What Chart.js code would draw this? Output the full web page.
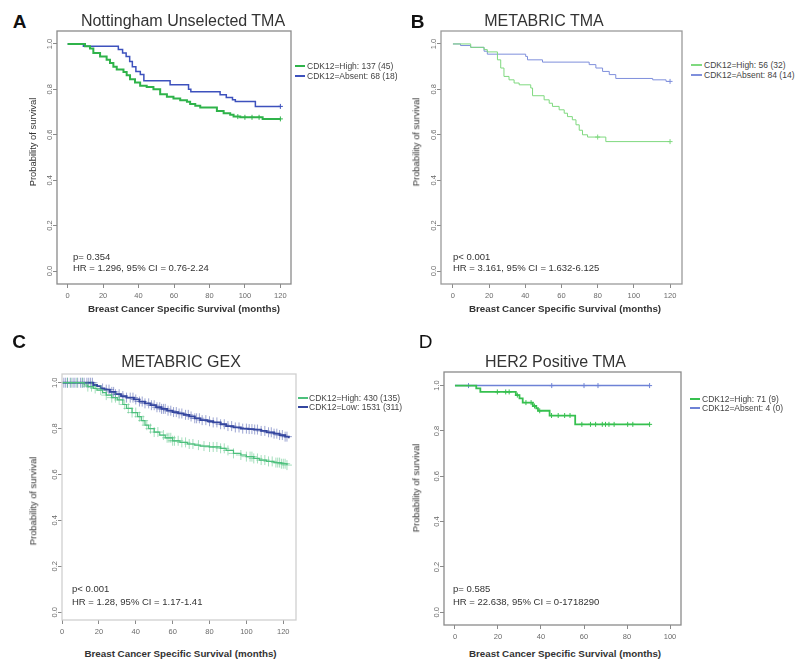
<!DOCTYPE html>
<html><head><meta charset="utf-8">
<script src="https://cdn.jsdelivr.net/npm/chart.js@4.4.1/dist/chart.umd.min.js"></script>
<style>
html,body{margin:0;padding:0;background:#fff}
#page{position:relative;width:800px;height:671px;overflow:hidden;font-family:"Liberation Sans",Arial,sans-serif;color:#222}
#page canvas{position:absolute}
.t{position:absolute;white-space:nowrap;line-height:1}
.c{transform:translate(-50%,-50%)}
.v{transform:translate(-50%,-50%) rotate(-90deg)}
.l{transform:translateY(-50%)}
.sw{position:absolute;height:2px}
</style></head><body><div id="page"></div>
<script>
// ---------------- DATA ----------------
const yTicks = [0, 0.2, 0.4, 0.6, 0.8, 1.0];
const xTicks120 = [0, 20, 40, 60, 80, 100, 120];
const xTicks100 = [0, 20, 40, 60, 80, 100];

const titles = ["Nottingham Unselected TMA", "METABRIC TMA", "METABRIC GEX", "HER2 Positive TMA"];
const letters = ["A", "B", "C", "D"];
const xAxisTitle = "Breast Cancer Specific Survival (months)";
const yAxisTitle = "Probability of survival";

const legendA = ["CDK12=High: 137 (45)", "CDK12=Absent: 68 (18)"];
const legendB = ["CDK12=High: 56 (32)", "CDK12=Absent: 84 (14)"];
const legendC = ["CDK12=High: 430 (135)", "CDK12=Low: 1531 (311)"];
const legendD = ["CDK12=High: 71 (9)", "CDK12=Absent: 4 (0)"];

const statsA = ["p= 0.354", "HR = 1.296, 95% CI = 0.76-2.24"];
const statsB = ["p< 0.001", "HR = 3.161, 95% CI = 1.632-6.125"];
const statsC = ["p< 0.001", "HR = 1.28, 95% CI = 1.17-1.41"];
const statsD = ["p= 0.585", "HR = 22.638, 95% CI = 0-1718290"];

// Panel A (time in months, survival probability after each step)
const A_high_t = [0, 9.8, 12.6, 14.5, 18.3, 22, 23.9, 25.8, 27.7, 31.5, 33.3, 35.2, 38, 40.9, 44.6, 48.4, 52.2, 56, 59.7, 63.5, 67.3, 69.1, 72, 74.8, 84.2, 88, 91.7, 93.6, 97.4, 110, 120];
const A_high_s = [1, 0.99, 0.98, 0.96, 0.945, 0.93, 0.916, 0.9, 0.887, 0.876, 0.862, 0.845, 0.83, 0.816, 0.81, 0.8, 0.778, 0.767, 0.76, 0.752, 0.745, 0.736, 0.728, 0.72, 0.705, 0.695, 0.688, 0.68, 0.677, 0.67, 0.67];
const A_high_cens = [96, 100, 104, 108, 120];
const A_abs_t = [0, 8.9, 28.6, 31, 33, 35, 36.5, 38.5, 41, 43, 57.8, 68.2, 69.5, 86, 89.5, 93, 94.6, 105.9, 120];
const A_abs_s = [1, 0.99, 0.975, 0.96, 0.945, 0.923, 0.9, 0.879, 0.865, 0.838, 0.82, 0.8, 0.79, 0.776, 0.764, 0.754, 0.747, 0.725, 0.725];
const A_abs_cens = [120];

// Panel B
const B_high_t = [0, 9.8, 17.2, 19, 24.6, 26.4, 28.2, 31, 33.8, 36.6, 43, 44, 50.4, 53.2, 55, 58.7, 61.5, 63.3, 66, 68, 69.8, 71.6, 74.4, 84.5, 120];
const B_high_s = [1, 0.985, 0.975, 0.965, 0.93, 0.894, 0.857, 0.842, 0.828, 0.82, 0.806, 0.772, 0.754, 0.739, 0.725, 0.71, 0.695, 0.68, 0.666, 0.644, 0.62, 0.6, 0.59, 0.57, 0.57];
const B_high_cens = [80, 120];
const B_abs_t = [0, 4.2, 9.8, 17.2, 19, 40.2, 41.2, 49.5, 75.3, 79, 82.7, 86.4, 90, 110.4, 117.8, 120];
const B_abs_s = [1, 0.993, 0.985, 0.968, 0.955, 0.945, 0.93, 0.92, 0.909, 0.894, 0.879, 0.865, 0.848, 0.842, 0.835, 0.835];
const B_abs_cens = [120];

// Panel C
const C_high_t = [0, 12, 14, 17, 19, 22, 24, 27, 30, 33, 35, 38, 41, 43, 45, 47, 50, 53, 56, 60, 64, 68, 72, 75, 80, 86, 89, 93, 97, 100, 104, 107, 111, 115, 119, 122];
const C_high_s = [1, 0.99, 0.983, 0.975, 0.968, 0.957, 0.946, 0.935, 0.925, 0.905, 0.888, 0.87, 0.852, 0.835, 0.815, 0.8, 0.785, 0.772, 0.76, 0.747, 0.74, 0.733, 0.728, 0.724, 0.72, 0.714, 0.705, 0.692, 0.685, 0.678, 0.67, 0.663, 0.657, 0.652, 0.647, 0.641];
const C_high_cens = [3, 5, 8, 11, 14, 16, 18, 21, 24, 27, 29, 31, 34, 36, 38, 40, 42, 44, 46, 48, 50, 52, 55, 57, 58, 59, 60, 61, 63, 65, 67, 69, 71, 74, 77, 80, 82, 84, 86, 88, 90, 93, 97, 100, 102, 103, 104, 106, 108, 110, 112, 114, 116, 117, 118, 119, 120, 121, 122];
const C_low_t = [0, 17, 19, 21, 23, 26, 29, 32, 35, 39, 42, 45, 48, 51, 54, 57, 60, 63, 66, 69, 72, 75, 79, 82, 86, 89, 93, 97, 101, 104, 108, 111, 115, 118, 121, 123];
const C_low_s = [1, 0.99, 0.985, 0.975, 0.97, 0.96, 0.95, 0.942, 0.935, 0.927, 0.918, 0.91, 0.902, 0.893, 0.886, 0.878, 0.872, 0.866, 0.86, 0.853, 0.845, 0.837, 0.832, 0.827, 0.819, 0.811, 0.805, 0.8, 0.798, 0.796, 0.79, 0.784, 0.778, 0.772, 0.765, 0.758];
const C_low_cens = [1, 2, 3, 4.5, 6, 7, 8.5, 10, 11, 12, 13.5, 14.5, 15.5, 16.5, 22, 24, 25.5, 27, 28, 29, 31, 33, 35, 37, 38.5, 40, 42, 43.5, 45, 47, 48.5, 50, 51.5, 53, 54, 55, 56, 57.5, 59, 60.5, 62, 63.5, 65, 67, 68.5, 70, 72, 73, 74.5, 76, 78, 80, 82, 84, 86, 88, 90, 92, 94, 96, 98, 100, 101.5, 103, 104.5, 106, 108, 110, 112, 113.5, 115, 116.5, 118, 119.5, 121, 122];

// Panel D
const D_high_t = [0, 9.9, 11.8, 28.3, 30, 31.5, 36.2, 37.8, 38.6, 44, 55.9, 90.5];
const D_high_s = [1, 0.988, 0.972, 0.958, 0.944, 0.925, 0.91, 0.9, 0.889, 0.868, 0.829, 0.829];
const D_high_cens = [19.7, 23.6, 25.2, 29, 33, 35.4, 37, 39.4, 44.9, 48, 51, 53.5, 59, 63, 65.4, 68.5, 70, 71.6, 74, 80.3, 82.7, 90.5];
const D_abs_t = [0, 90.5];
const D_abs_s = [1, 1];
const D_abs_cens = [6.3, 45, 60, 66.5, 90.5];

// ---------------- STYLE / LAYOUT ----------------
const panels = [
  { box: [57, 31, 291, 284], xr: [-6, 126], yr: [-0.057, 1.057], xt: xTicks120,
    series: [
      { t: A_high_t, s: A_high_s, cens: A_high_cens, color: '#2fb34a', w: 2, cr: 2.5 },
      { t: A_abs_t, s: A_abs_s, cens: A_abs_cens, color: '#3d51bd', w: 1.5, cr: 2.5 }],
    legend: legendA, stats: statsA, boxColor: '#8a8a8a',
    txt: { letter: [19.5, 20.5], title: [183, 20.5], xl: [184, 308.5], yl: [33, 142], st: [73, 256.7, 268.3], lg: [295, 305, 307, 66, 76] } },
  { box: [441, 31, 682, 284], xr: [-6.6, 126.6], yr: [-0.057, 1.057], xt: xTicks120,
    series: [
      { t: B_high_t, s: B_high_s, cens: B_high_cens, color: '#7fd97f', w: 1, cr: 2.5 },
      { t: B_abs_t, s: B_abs_s, cens: B_abs_cens, color: '#7f8fdc', w: 1, cr: 2.5 }],
    legend: legendB, stats: statsB, boxColor: '#9a9a9a',
    txt: { letter: [417.5, 20.5], title: [544, 20.5], xl: [565, 308.5], yl: [415.5, 142], st: [453, 256.7, 268.3], lg: [691, 702, 704, 65, 75] } },
  { box: [62, 374, 296, 620], xr: [0, 126.9], yr: [-0.034, 1.038], xt: xTicks120,
    series: [
      { t: C_high_t, s: C_high_s, cens: C_high_cens, color: '#4cc07c', w: 1.2, cr: 5, cc: 'rgba(76,192,124,0.5)' },
      { t: C_low_t, s: C_low_s, cens: C_low_cens, color: '#34469f', w: 1.8, cr: 5, cc: 'rgba(58,76,166,0.5)' }],
    legend: legendC, stats: statsC, boxColor: '#d0d0d0',
    txt: { letter: [19, 340.5], title: [181, 361.5], xl: [180.5, 654], yl: [32.5, 501], st: [72, 589.3, 601.7], lg: [298, 308, 309, 398, 407] } },
  { box: [444, 372, 681, 625], xr: [-5.1, 105.1], yr: [-0.056, 1.06], xt: xTicks100,
    series: [
      { t: D_high_t, s: D_high_s, cens: D_high_cens, color: '#36c04f', w: 1.8, cr: 2.5 },
      { t: D_abs_t, s: D_abs_s, cens: D_abs_cens, color: '#6e82d6', w: 1.5, cr: 2.5 }],
    legend: legendD, stats: statsD, boxColor: '#8a8a8a',
    txt: { letter: [425.5, 340.5], title: [555.5, 361.5], xl: [565, 654], yl: [415.5, 488], st: [453, 589.3, 601.7], lg: [690, 700, 702, 399, 408] } }
];

const page = document.getElementById('page');
function addText(str, x, y, cls, css) {
  const d = document.createElement('div');
  d.className = 't ' + cls;
  d.textContent = str;
  d.style.left = x + 'px'; d.style.top = y + 'px';
  Object.assign(d.style, css || {});
  page.appendChild(d);
  return d;
}
function survAt(t, times, surv) {
  let v = surv[0];
  for (let i = 0; i < times.length; i++) if (times[i] <= t) v = surv[i];
  return v;
}
const boxPlugin = {
  id: 'boxFrame',
  afterDraw(chart, args, opts) {
    const { ctx, chartArea: a } = chart;
    ctx.save();
    ctx.strokeStyle = opts.color; ctx.lineWidth = 1.3;
    ctx.strokeRect(a.left, a.top, a.right - a.left, a.bottom - a.top);
    ctx.restore();
  }
};

const padL = 26, padT = 6, padR = 6, padB = 22;
const tickFont = { family: '"Liberation Sans", Arial, sans-serif', size: 7.5 };
const tickColor = '#6a6a6a';

panels.forEach((p, idx) => {
  const [bl, bt, br, bb] = p.box;
  const W = (br - bl) + padL + padR, H = (bb - bt) + padT + padB;
  const cv = document.createElement('canvas');
  cv.width = W; cv.height = H;
  cv.style.left = (bl - padL) + 'px'; cv.style.top = (bt - padT) + 'px';
  cv.style.width = W + 'px'; cv.style.height = H + 'px';
  page.appendChild(cv);

  const datasets = [];
  p.series.forEach(s => {
    datasets.push({
      data: s.t.map((t, i) => ({ x: t, y: s.s[i] })),
      showLine: true, stepped: 'before', borderColor: s.color, borderWidth: s.w,
      pointRadius: 0, fill: false
    });
    datasets.push({
      data: s.cens.map(t => ({ x: t, y: survAt(t, s.t, s.s) })),
      showLine: false, pointStyle: 'cross', pointRadius: s.cr, pointBorderWidth: 1,
      borderColor: s.cc || s.color, backgroundColor: s.cc || s.color
    });
  });

  new Chart(cv, {
    type: 'scatter',
    data: { datasets },
    plugins: [boxPlugin],
    options: {
      responsive: false, animation: false, devicePixelRatio: 1, events: [],
      layout: { padding: { left: 0, top: padT, right: padR, bottom: 0 } },
      plugins: { legend: { display: false }, tooltip: { enabled: false }, boxFrame: { color: p.boxColor } },
      scales: {
        x: {
          type: 'linear', min: p.xr[0], max: p.xr[1],
          afterBuildTicks: sc => { sc.ticks = p.xt.map(v => ({ value: v })); },
          afterFit: sc => { sc.height = padB; },
          ticks: { autoSkip: false, minRotation: 0, maxRotation: 0, padding: 3, color: tickColor, font: tickFont, callback: v => String(v) },
          grid: { display: true, drawOnChartArea: false, drawTicks: true, tickLength: 4, color: '#8a8a8a', lineWidth: 1 },
          border: { display: false }
        },
        y: {
          type: 'linear', min: p.yr[0], max: p.yr[1],
          afterBuildTicks: sc => { sc.ticks = yTicks.map(v => ({ value: v })); },
          afterFit: sc => { sc.width = padL; },
          ticks: { autoSkip: false, minRotation: 90, maxRotation: 90, crossAlign: 'center', padding: -2, color: tickColor, font: tickFont, callback: v => Number(v).toFixed(1) },
          grid: { display: true, drawOnChartArea: false, drawTicks: true, tickLength: 4, color: '#8a8a8a', lineWidth: 1 },
          border: { display: false }
        }
      }
    }
  });

  const T = p.txt;
  addText(letters[idx], T.letter[0], T.letter[1], 'c', { fontSize: '19px', fontWeight: idx === 3 ? 'normal' : 'bold', color: '#111' });
  addText(titles[idx], T.title[0], T.title[1], 'c', { fontSize: '16px', color: '#333' });
  addText(xAxisTitle, T.xl[0], T.xl[1], 'c', { fontSize: '9.8px', fontWeight: 'bold', color: '#333' });
  addText(yAxisTitle, T.yl[0], T.yl[1], 'v', { fontSize: '9.4px', color: '#333' });
  addText(p.stats[0], T.st[0], T.st[1], 'l', { fontSize: '9.5px', color: '#333' });
  addText(p.stats[1], T.st[0], T.st[2], 'l', { fontSize: '9.5px', color: '#333' });
  p.legend.forEach((lab, i) => {
    const y = T.lg[3 + i];
    const sw = document.createElement('div');
    sw.className = 'sw';
    sw.style.left = T.lg[0] + 'px'; sw.style.top = (y - 1) + 'px';
    sw.style.width = (T.lg[1] - T.lg[0]) + 'px';
    sw.style.background = p.series[i].color;
    page.appendChild(sw);
    addText(lab, T.lg[2], y, 'l', { fontSize: '8.5px', color: '#444' });
  });
});
</script>
</body></html>
